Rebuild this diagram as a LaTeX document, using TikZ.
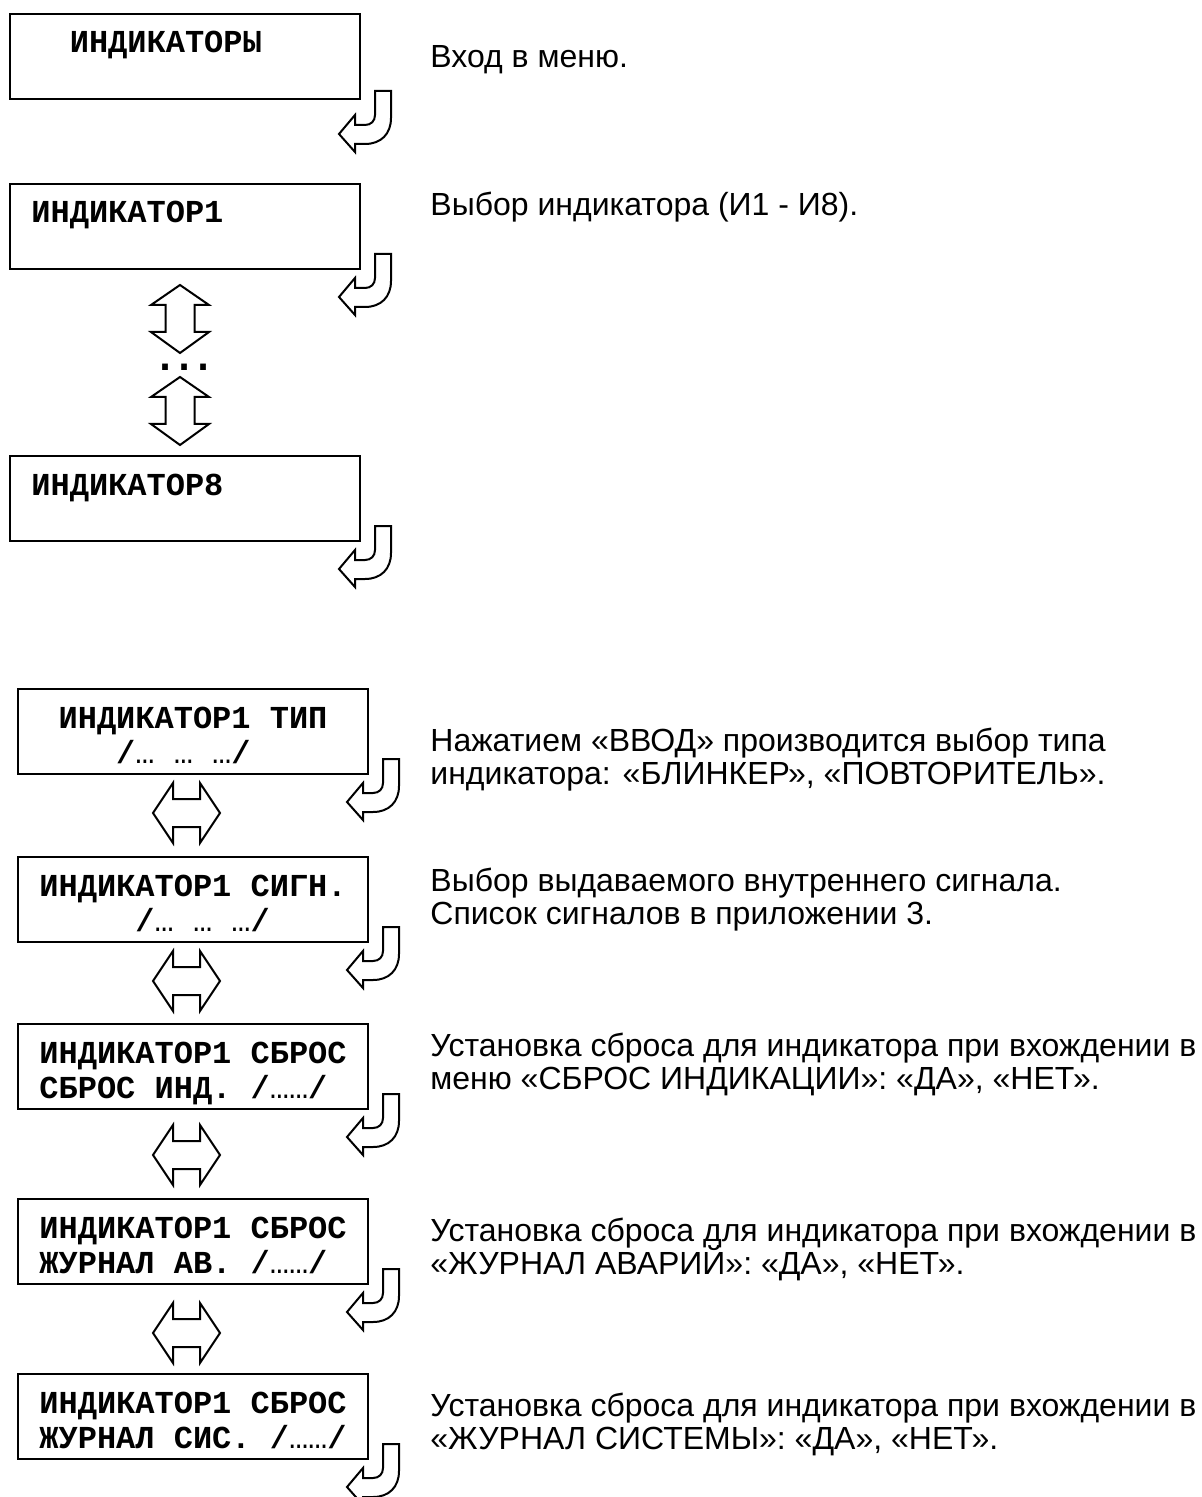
\documentclass[tikz,border=0pt]{standalone}
\usepackage{fontspec}
\setmainfont{Liberation Sans}
\newfontfamily\lcdfont{Liberation Mono}
\newcommand{\elp}{{\mdseries …}}
\newcommand{\cel}{\phantom{Ж}}

\begin{document}
\begin{tikzpicture}[x=0.5pt, y=-0.5pt,
        lcd/.style={draw, line width=1pt, anchor=north west,
            font=\lcdfont\bfseries\fontsize{16}{17.5}\selectfont,
            text width=153.6pt, align=left, inner xsep=10.7pt, inner ysep=0pt,
            text height=19.5pt, text depth=23pt, minimum height=42pt},
        note/.style={anchor=base west, align=left, inner sep=0pt,
            font={\fontsize{16}{16.5}\selectfont\lineskiplimit=-20pt\relax}},
        arr/.style={draw, line width=1pt, fill=white, line join=miter},
        pics/enterarr/.style={code={
            \path[arr] (0,0) -- (0,27) .. controls (0,43) and (-10,53) .. (-26,53)
                -- (-36,53) -- (-36,61) -- (-52,43) -- (-36,24) -- (-36,34) -- (-26,34)
                .. controls (-20,34) and (-16,30) .. (-16,24) -- (-16,0) -- cycle;}},
        pics/updown/.style={code={
            \path[arr] (0,-34) -- (29,-14) -- (14.5,-14) -- (14.5,13) -- (29,13) -- (0,34)
                -- (-29,13) -- (-14.5,13) -- (-14.5,-14) -- (-29,-14) -- cycle;}},
        pics/leftright/.style={code={
            \path[arr] (-33.5,0) -- (-13.5,-30) -- (-13.5,-14) -- (13.5,-14) -- (13.5,-30) -- (33.5,0)
                -- (13.5,30) -- (13.5,14) -- (-13.5,14) -- (-13.5,30) -- cycle;}}]
    \useasboundingbox (0,0) rectangle (1202,1497);
    % menu entry
    \node[lcd] (b1) at (9,13)   {\cel\cel ИНДИКАТОРЫ};
    \node[lcd] (b2) at (9,183)  {ИНДИКАТОР1};
    \node[lcd] (b3) at (9,455)  {ИНДИКАТОР8};
    \pic at (180,319) {updown};
    \node[font=\fontsize{30}{30}\selectfont, anchor=base, inner sep=0pt] (dots) at (184,371) {…};
    \pic at (180,411) {updown};
    % indicator settings
    \node[lcd] (b4) at (17,688)  {\cel ИНДИКАТОР1\cel ТИП\\\cel\cel\cel\cel/\elp\cel\elp\cel\elp/};
    \node[lcd] (b5) at (17,856)  {ИНДИКАТОР1\cel СИГН.\\\cel\cel\cel\cel\cel/\elp\cel\elp\cel\elp/};
    \node[lcd] (b6) at (17,1023) {ИНДИКАТОР1\cel СБРОС\\СБРОС\cel ИНД.\cel/\elp\elp/};
    \node[lcd] (b7) at (17,1198) {ИНДИКАТОР1\cel СБРОС\\ЖУРНАЛ\cel АВ.\cel/\elp\elp/};
    \node[lcd] (b8) at (17,1373) {ИНДИКАТОР1\cel СБРОС\\ЖУРНАЛ\cel СИС.\cel/\elp\elp/};
    \foreach \y in {813,981,1155,1333} \pic at (186.5,\y) {leftright};
    \foreach \b/\dy in {b1/-9,b2/-16,b3/-16,b4/-16,b5/-16,b6/-16,b7/-16,b8/-16}
        \pic at ([shift={(30,\dy)}]\b.south east) {enterarr};
    % notes
    \node[note] (n1) at (430,68)   {Вход в меню.};
    \node[note] (n2) at (430,216)  {Выбор индикатора (И1 - И8).};
    \node[note] (n3) at (430,784)  {Нажатием «ВВОД» производится выбор типа\\индикатора: «БЛИНКЕР», «ПОВТОРИТЕЛЬ».};
    \node[note] (n4) at (430,924)  {Выбор выдаваемого внутреннего сигнала.\\Список сигналов в приложении 3.};
    \node[note] (n5) at (430,1089) {Установка сброса для индикатора при вхождении в\\меню «СБРОС ИНДИКАЦИИ»: «ДА», «НЕТ».};
    \node[note] (n6) at (430,1274) {Установка сброса для индикатора при вхождении в\\«ЖУРНАЛ АВАРИЙ»: «ДА», «НЕТ».};
    \node[note] (n7) at (430,1449) {Установка сброса для индикатора при вхождении в\\«ЖУРНАЛ СИСТЕМЫ»: «ДА», «НЕТ».};
\end{tikzpicture}
\end{document}
